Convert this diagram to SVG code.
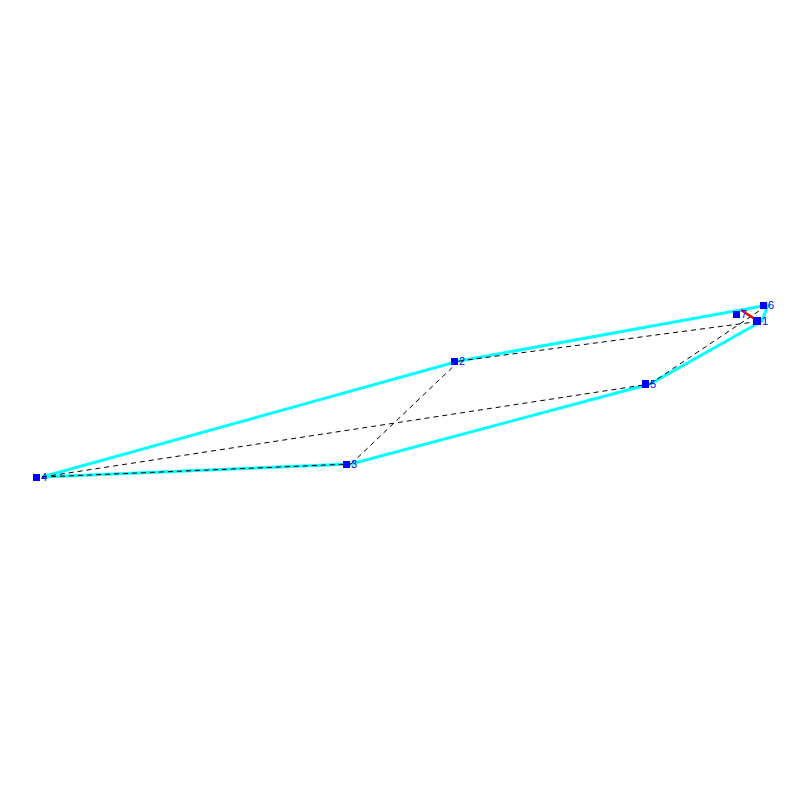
<svg xmlns="http://www.w3.org/2000/svg" width="800" height="800" viewBox="0 0 800 800">
<style>
.e{stroke:#00ffff;stroke-width:3;fill:none;stroke-linecap:round}
.d{stroke:#000;stroke-width:1;fill:none;stroke-dasharray:5,4}
.n rect{fill:#0000ff}
.n text{fill:#0000ff;font-family:"Liberation Sans",Arial,sans-serif;font-size:11px}
</style>
<rect width="800" height="800" fill="#fff"/>
<g id="edges">
<polyline class="e" points="768,305 459,361 42,477 351,464 650,384 762,321 768,305"/>
</g>
<g id="connectors">
<line class="d" x1="42" y1="477" x2="351" y2="464"/>
<line class="d" x1="42" y1="477" x2="650" y2="384"/>
<line class="d" x1="351" y1="464" x2="459" y2="361"/>
<line class="d" x1="459" y1="361" x2="762" y2="321"/>
<line class="d" x1="650" y1="384" x2="768" y2="305"/>
<line x1="741" y1="310" x2="754" y2="318.5" stroke="#ff0000" stroke-width="2.5"/>
</g>
<g id="node1" class="n"><rect x="753" y="317" width="8" height="8"/><text x="762" y="325">1</text></g>
<g id="node2" class="n"><rect x="451" y="358" width="7" height="7"/><text x="459" y="365">2</text></g>
<g id="node3" class="n"><rect x="343" y="461" width="7" height="7"/><text x="351" y="468">3</text></g>
<g id="node4" class="n"><rect x="33" y="474" width="7" height="7"/><text x="41" y="481">4</text></g>
<g id="node5" class="n"><rect x="642" y="380" width="7" height="8"/><text x="650" y="388">5</text></g>
<g id="node6" class="n"><rect x="760" y="302" width="7" height="7"/><text x="768" y="309">6</text></g>
<g id="node7" class="n"><rect x="733" y="311" width="7" height="7"/><text x="741" y="318">7</text></g>
</svg>
